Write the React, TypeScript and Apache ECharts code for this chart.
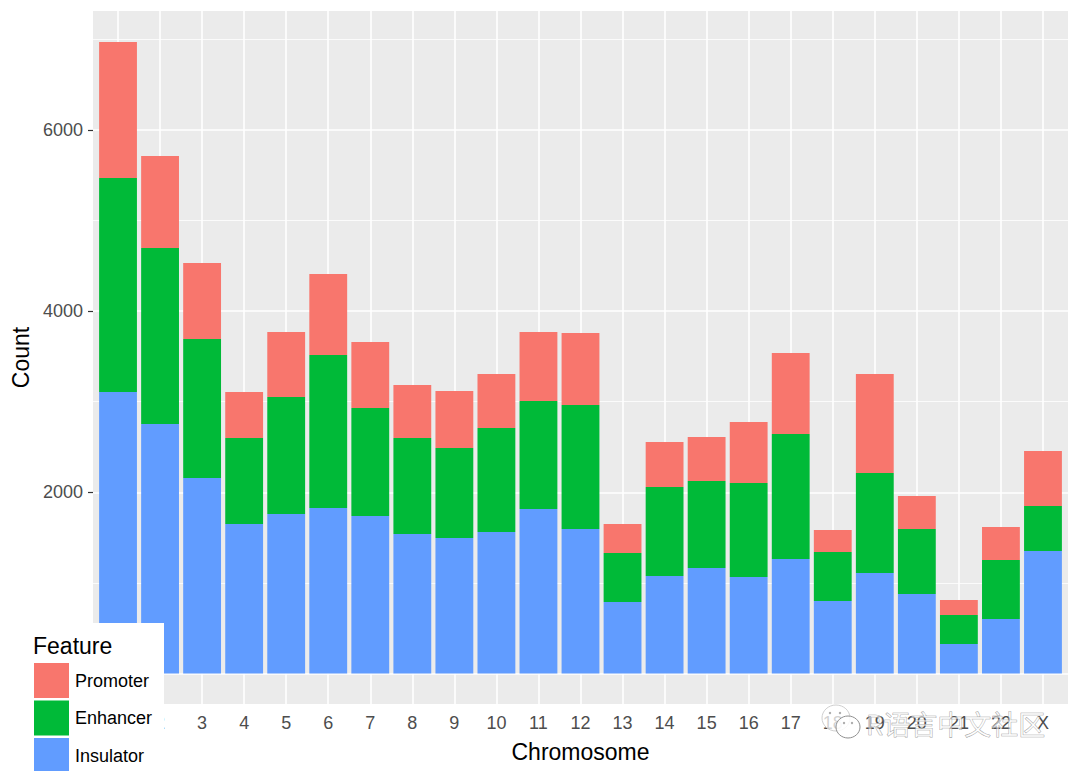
import React, { useEffect, useRef } from "react";
import * as echarts from "echarts";

const chromosomes = ["1","2","3","4","5","6","7","8","9","10","11","12","13","14","15","16","17","18","19","20","21","22","X"];
const insulator = [3107,2754,2158,1650,1760,1827,1738,1540,1496,1562,1816,1595,789,1076,1164,1065,1264,800,1109,877,326,602,1352];
const enhancer = [2362,1943,1534,949,1291,1689,1192,1060,993,1148,1192,1369,541,982,960,1038,1380,541,1104,717,320,651,497];
const promoter = [1501,1015,839,508,717,894,728,585,629,596,762,795,320,497,486,673,894,243,1093,364,166,364,607];
const majorTicks = [0,2000,4000,6000];
const minorTicks = [1000,3000,5000,7000];
const legendItems = ["Promoter","Enhancer","Insulator"];

const FONT = "'Liberation Sans', Arial, sans-serif";
const COLORS: Record<string,string> = { Promoter:"#F8766D", Enhancer:"#00BA38", Insulator:"#619CFF" };
const Y_MIN = -337, Y_MAX = 7312;

export default function App() {
  const ref = useRef<HTMLDivElement>(null);
  useEffect(() => {
    document.body.style.margin = "0";
    const chart = echarts.init(ref.current!, null, { renderer: "svg" });
    const stackSeries = (name: string, data: number[]) => ({
      name, type: "bar", stack: "all", data, xAxisIndex: 1, yAxisIndex: 2,
      barWidth: "90%", itemStyle: { color: COLORS[name] }, z: 3, silent: true,
    });
    const dot = (cx: number, cy: number) => ({ type: "circle", z: 72, shape: { cx, cy, r: 1.2 }, style: { fill: "#aaa" } });
    chart.setOption({
      animation: false,
      backgroundColor: "#fff",
      textStyle: { fontFamily: FONT },
      grid: [
        { left: 93, top: 11, width: 975, height: 693, show: true, backgroundColor: "#EBEBEB", borderWidth: 0 },
        { left: 97, top: 11, width: 967, height: 693 },
      ],
      xAxis: [
        { type: "value", gridIndex: 0, min: 0, max: 1, show: false, splitLine: { show: false } },
        {
          type: "category", gridIndex: 1, data: chromosomes,
          name: "Chromosome", nameLocation: "middle", nameGap: 36,
          nameTextStyle: { fontSize: 23, color: "#000", fontFamily: FONT },
          axisLine: { show: false, onZero: false },
          axisTick: { alignWithLabel: true, length: 5, lineStyle: { color: "#333", width: 1.2 } },
          axisLabel: { interval: 0, fontSize: 18, color: "#4D4D4D", margin: 10, fontFamily: FONT },
          splitLine: { show: true, alignWithLabel: true, lineStyle: { color: "#fff", width: 1.6 } },
        },
      ],
      yAxis: [
        {
          type: "value", gridIndex: 0, min: Y_MIN, max: Y_MAX,
          name: "Count", nameLocation: "middle", nameGap: 60, nameRotate: 90,
          nameTextStyle: { fontSize: 23, color: "#000", fontFamily: FONT },
          axisLine: { show: false },
          axisTick: { show: true, customValues: majorTicks, length: 5, lineStyle: { color: "#333", width: 1.2 } },
          axisLabel: { customValues: majorTicks, formatter: (v: number) => String(v), fontSize: 18, color: "#4D4D4D", margin: 10, fontFamily: FONT },
          splitLine: { show: true, lineStyle: { color: "#fff", width: 1.6 } },
        },
        {
          type: "value", gridIndex: 0, min: Y_MIN, max: Y_MAX,
          axisLine: { show: false },
          axisTick: { show: false, customValues: minorTicks },
          axisLabel: { show: false, customValues: minorTicks },
          splitLine: { show: true, lineStyle: { color: "#fff", width: 0.8 } },
        },
        {
          type: "value", gridIndex: 1, min: Y_MIN, max: Y_MAX,
          axisLine: { show: false }, axisTick: { show: false }, axisLabel: { show: false },
          splitLine: { show: false },
        },
      ],
      legend: {
        data: legendItems, orient: "vertical", left: 34, top: 663, padding: 0, height: 200,
        itemWidth: 35, itemHeight: 35, itemGap: 2.5, icon: "rect", z: 60,
        textStyle: { fontSize: 18, color: "#000", fontFamily: FONT, padding: [3, 0, 0, 1] },
        selectedMode: false,
      },
      graphic: [
        { type: "rect", z: 50, shape: { x: 0, y: 623, width: 164, height: 148 }, style: { fill: "#fff" } },
        { type: "text", z: 60, x: 33, y: 634, style: { text: "Feature", fontSize: 23, fontFamily: FONT, fill: "#000" } },
        // watermark
        { type: "ellipse", z: 70, shape: { cx: 836, cy: 718, rx: 14, ry: 13 }, style: { fill: "rgba(255,255,255,0.75)", stroke: "#cfcfcf", lineWidth: 1 } },
        { type: "ellipse", z: 71, shape: { cx: 848, cy: 727, rx: 12, ry: 11 }, style: { fill: "rgba(255,255,255,0.85)", stroke: "#8f8f8f", lineWidth: 1 } },
        dot(830, 713), dot(840, 713), dot(844, 723), dot(852, 723),
        { type: "text", z: 72, x: 866, y: 710, style: { text: "R语言中文社区", fontSize: 27, fontFamily: "'Noto Sans CJK SC', sans-serif", fill: "rgba(255,255,255,0.55)", stroke: "rgba(110,110,110,0.75)", lineWidth: 0.6 } },
      ],
      series: [stackSeries("Insulator", insulator), stackSeries("Enhancer", enhancer), stackSeries("Promoter", promoter)],
    });
    return () => chart.dispose();
  }, []);
  return <div ref={ref} style={{ width: 1080, height: 771 }} />;
}
